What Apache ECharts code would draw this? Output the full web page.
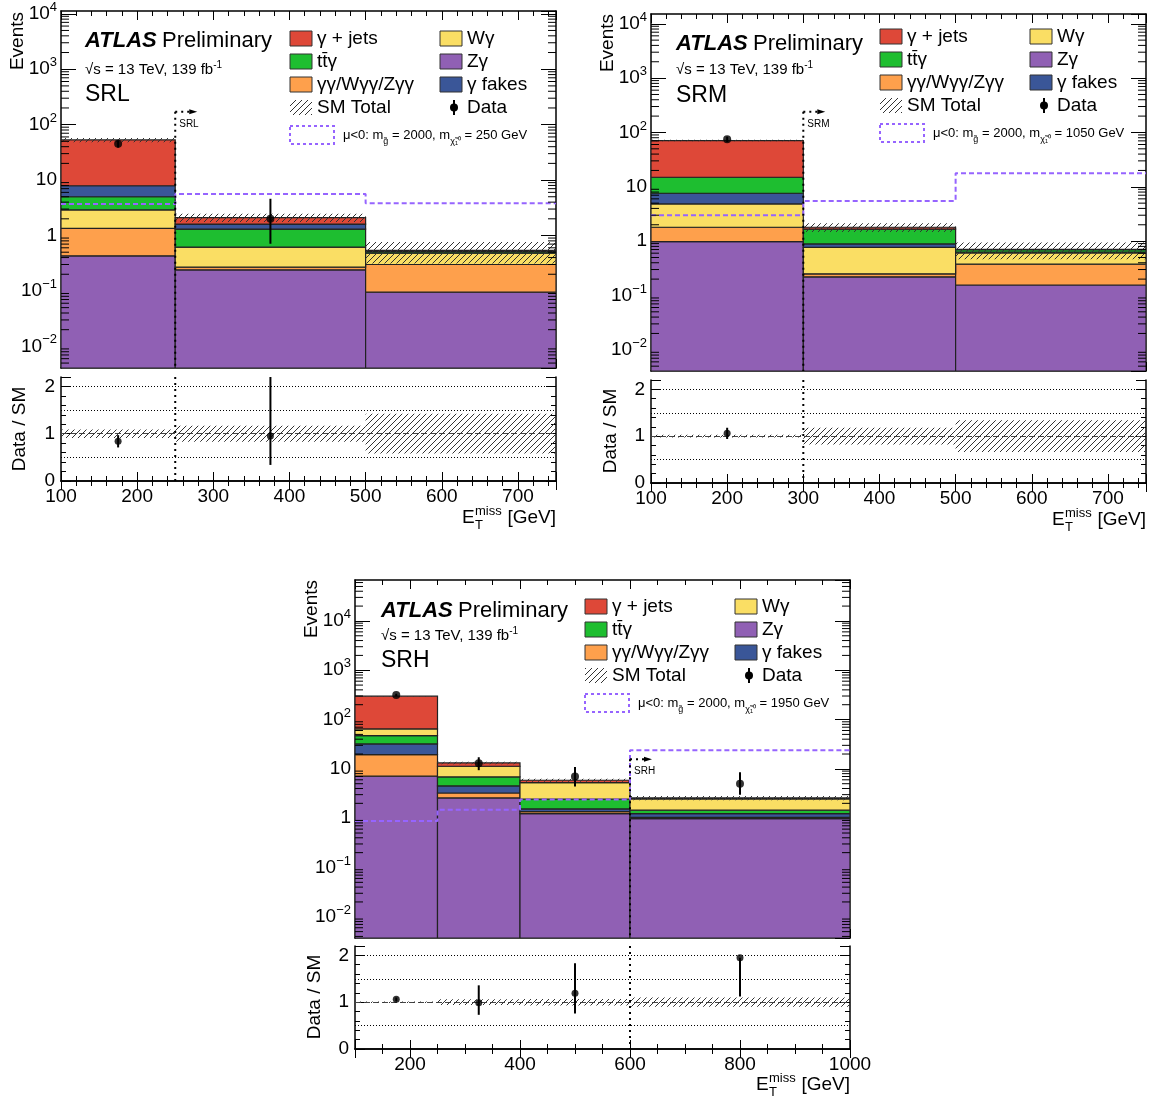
<!DOCTYPE html>
<html><head><meta charset="utf-8">
<script src="https://cdn.jsdelivr.net/npm/echarts@6/dist/echarts.min.js"></script>
<style>html,body{margin:0;padding:0;background:#fff}#c{width:1153px;height:1102px}</style>
</head><body><div id="c"></div>
<script>
// ================= DATA =================
// --- SRL ---
const srlEdges      = [100, 250, 500, 750];
const srlZGamma     = [0.43, 0.24, 0.095];
const srlDiphoton   = [0.92, 0.028, 0.205];
const srlWGamma     = [1.55, 0.35, 0.18];
const srlTtGamma    = [2.1, 0.69, 0.03];
const srlFakes      = [2.9, 0.30, 0.025];
const srlGammaJets  = [45, 0.50, 0.005];
const srlSystRel    = [0.09, 0.17, 0.42];
const srlSignal     = [3.7, 5.6, 3.8];
const srlDataX      = [175, 375];
const srlData       = [45, 2];
const srlDataLo     = [38.5, 0.71];
const srlDataHi     = [52, 4.6];
const srlRatio      = [0.84, 0.95];
const srlRatioLo    = [0.71, 0.34];
const srlRatioHi    = [0.97, 2.5];
const srlCut        = 250;
// --- SRM ---
const srmEdges      = [100, 300, 500, 750];
const srmZGamma     = [0.98, 0.22, 0.156];
const srmDiphoton   = [0.82, 0.03, 0.22];
const srmWGamma     = [3.04, 0.52, 0.23];
const srmFakes      = [2.76, 0.12, 0.02];
const srmTtGamma    = [7.4, 0.77, 0.07];
const srmGammaJets  = [56, 0.14, 0.01];
const srmSystRel    = [0.03, 0.18, 0.34];
const srmSignal     = [3.0, 5.5, 17.8];
const srmDataX      = [200];
const srmData       = [75];
const srmDataLo     = [66.5];
const srmDataHi     = [83.6];
const srmRatio      = [1.06];
const srmRatioLo    = [0.94];
const srmRatioHi    = [1.18];
const srmCut        = 300;
// --- SRH ---
const srhEdges      = [100, 250, 400, 600, 1000];
const srhZGamma     = [7.1, 2.57, 1.24, 0.98];
const srhDiphoton   = [12.4, 0.67, 0.12, 0.06];
const srhFakes      = [12.5, 1.26, 0.18, 0.2];
const srhTtGamma    = [15.3, 2.36, 0.91, 0.21];
const srhWGamma     = [17.2, 4.44, 2.82, 1.0];
const srhGammaJets  = [233, 1.9, 0.6, 0.12];
const srhSystRel    = [0.015, 0.06, 0.07, 0.10];
const srhSignal     = [0.88, 1.49, 2.38, 23.8];
const srhDataX      = [175, 325, 500, 800];
const srhData       = [316, 13, 7, 5];
const srhDataLo     = [298, 9.4, 4.4, 3.0];
const srhDataHi     = [334, 17.2, 10.9, 8.5];
const srhRatio      = [1.06, 0.99, 1.19, 1.95];
const srhRatioLo    = [1.02, 0.73, 0.76, 1.12];
const srhRatioHi    = [1.10, 1.36, 1.83, 1.95];
const srhCut        = 600;

const legendLabels = ['γ + jets', 'Wγ', 'tt\u0304γ', 'Zγ', 'γγ/Wγγ/Zγγ', 'γ fakes', 'SM Total', 'Data'];
const signalMasses = ['250', '1050', '1950'];
const regionNames  = ['SRL', 'SRM', 'SRH'];

// ================= STYLE =================
const FONT = '"Liberation Sans", Arial, Helvetica, sans-serif';
const C = {gj:'#de4838', tt:'#1ebe30', di:'#fea04c', w:'#fade64', z:'#9060b4', fk:'#3a5698', sig:'#9664ff'};

function hatchPattern(step) {
  const c = document.createElement('canvas'); c.width = step; c.height = step;
  const x = c.getContext('2d'); x.strokeStyle = '#333'; x.lineWidth = 1;
  x.beginPath();
  x.moveTo(0, step); x.lineTo(step, 0);
  x.moveTo(-step/2, step/2); x.lineTo(step/2, -step/2);
  x.moveTo(step/2, step*1.5); x.lineTo(step*1.5, step/2);
  x.stroke();
  return {image: c, repeat: 'repeat'};
}
const HATCH = hatchPattern(6);

const panels = [
  { name: regionNames[0], edges: srlEdges,
    stack: [['Zγ', srlZGamma, C.z], ['γγ/Wγγ/Zγγ', srlDiphoton, C.di], ['Wγ', srlWGamma, C.w],
            ['ttγ', srlTtGamma, C.tt], ['γ fakes', srlFakes, C.fk], ['γ + jets', srlGammaJets, C.gj]],
    syst: srlSystRel, signal: srlSignal, dataX: srlDataX, data: srlData, dataLo: srlDataLo, dataHi: srlDataHi,
    ratio: srlRatio, ratioLo: srlRatioLo, ratioHi: srlRatioHi, cut: srlCut, mass: signalMasses[0],
    L: { main:{left:61, top:11, width:495, height:357}, ratio:{left:61, top:377, width:495, height:104},
         xmin:100, xmax:750, xint:100, xminor:5, ylog:[-2.39, 4.05], cutY:170,
         atlas:[85, 41], sqrts:70, region:95, leg:[290, 31], events:[18, 12], ratioTitle:[20, 429], xTitle:[556, 518] } },
  { name: regionNames[1], edges: srmEdges,
    stack: [['Zγ', srmZGamma, C.z], ['γγ/Wγγ/Zγγ', srmDiphoton, C.di], ['Wγ', srmWGamma, C.w],
            ['γ fakes', srmFakes, C.fk], ['ttγ', srmTtGamma, C.tt], ['γ + jets', srmGammaJets, C.gj]],
    syst: srmSystRel, signal: srmSignal, dataX: srmDataX, data: srmData, dataLo: srmDataLo, dataHi: srmDataHi,
    ratio: srmRatio, ratioLo: srmRatioLo, ratioHi: srmRatioHi, cut: srmCut, mass: signalMasses[1],
    L: { main:{left:651, top:14, width:495, height:357}, ratio:{left:651, top:380, width:495, height:103},
         xmin:100, xmax:750, xint:100, xminor:5, ylog:[-2.39, 4.18], cutY:240,
         atlas:[676, 44], sqrts:70, region:96, leg:[880, 29], events:[608, 14], ratioTitle:[611, 431], xTitle:[1146, 520] } },
  { name: regionNames[2], edges: srhEdges,
    stack: [['Zγ', srhZGamma, C.z], ['γγ/Wγγ/Zγγ', srhDiphoton, C.di], ['γ fakes', srhFakes, C.fk],
            ['ttγ', srhTtGamma, C.tt], ['Wγ', srhWGamma, C.w], ['γ + jets', srhGammaJets, C.gj]],
    syst: srhSystRel, signal: srhSignal, dataX: srhDataX, data: srhData, dataLo: srhDataLo, dataHi: srhDataHi,
    ratio: srhRatio, ratioLo: srhRatioLo, ratioHi: srhRatioHi, cut: srhCut, mass: signalMasses[2],
    L: { main:{left:355, top:580, width:495, height:358}, ratio:{left:355, top:946, width:495, height:103},
         xmin:100, xmax:1000, xint:null, xminor:4, ylog:[-2.43, 4.83], cutY:15.7,
         atlas:[381, 611], sqrts:636, region:661, leg:[585, 599], events:[312, 580], ratioTitle:[315, 997], xTitle:[850, 1085] } }
];

// ================= BUILD =================
const grids = [], xAxes = [], yAxes = [], series = [], graphics = [];
const axisLineStyle = {lineStyle:{color:'#000', width:1.5}};

function logLabel(v) {
  const l = Math.log10(v), r = Math.round(l);
  if (Math.abs(l - r) > 1e-6) return '';
  if (r === 0) return '{b|1}';
  if (r === 1) return '{b|10}';
  return '{b|10}{s|' + (r < 0 ? '\u2212' + (-r) : r) + '}';
}

function makeX(g, L, pos, labels) {
  const o = { type:'value', gridIndex:g, position:pos, min:L.xmin, max:L.xmax,
    axisLine: axisLineStyle, splitLine:{show:false},
    axisTick:{show:true, inside:true, length:9, lineStyle:{color:'#000', width:1}},
    minorTick:{show:true, inside:true, splitNumber:L.xminor, length:5, lineStyle:{color:'#000', width:1}},
    axisLabel:{show:labels, color:'#000', fontSize:19, fontFamily:FONT, margin:6,
               formatter: v => String(v),
               showMinLabel: L.xint !== null, showMaxLabel: L.xint === null} };
  if (L.xint) o.interval = L.xint;
  return o;
}
function makeYLog(g, L, pos, labels) {
  return { type:'log', logBase:10, gridIndex:g, position:pos,
    min:Math.pow(10, L.ylog[0]), max:Math.pow(10, L.ylog[1]),
    axisLine: axisLineStyle, splitLine:{show:false},
    axisTick:{show:true, inside:true, length:15, lineStyle:{color:'#000', width:1}},
    minorTick:{show:false},
    axisLabel:{show:labels, formatter:logLabel, margin:4, showMinLabel:false, showMaxLabel:false,
      rich:{ b:{fontSize:19, fontFamily:FONT, color:'#000', lineHeight:26},
             s:{fontSize:13, fontFamily:FONT, color:'#000', lineHeight:13, verticalAlign:'top'} } } };
}
function makeYRatio(g, pos, labels) {
  return { type:'value', gridIndex:g, position:pos, min:0, max:2.2, interval:1,
    axisLine: axisLineStyle, splitLine:{show:false},
    axisTick:{show:true, inside:true, length:10, lineStyle:{color:'#000', width:1}},
    minorTick:{show:true, splitNumber:5, length:5, lineStyle:{color:'#000', width:1}},
    axisLabel:{show:labels, color:'#000', fontSize:19, fontFamily:FONT, margin:6, showMaxLabel:false} };
}

function rectRender(style) {
  return (params, api) => {
    const a = api.coord([api.value(0), api.value(3)]);
    const b = api.coord([api.value(1), api.value(2)]);
    return {type:'rect', shape:{x:a[0], y:a[1], width:b[0]-a[0], height:b[1]-a[1]}, style};
  };
}
function errRender(params, api) {
  const a = api.coord([api.value(0), api.value(1)]);
  const b = api.coord([api.value(0), api.value(2)]);
  return {type:'line', shape:{x1:a[0], y1:a[1], x2:b[0], y2:b[1]}, style:{stroke:'#000', lineWidth:2}};
}
// log-axis minor ticks (2..9 within each decade), drawn through the axis scale
function logMinorRender(lo, hi) {
  return (params, api) => {
    const cs = params.coordSys;
    const x0 = api.value(0);
    const kids = [];
    for (let d = Math.floor(lo); d <= Math.ceil(hi); d++) {
      for (let k = 2; k <= 9; k++) {
        const v = k * Math.pow(10, d);
        const lv = Math.log10(v);
        if (lv <= lo || lv >= hi) continue;
        const y = api.coord([x0, v])[1];
        kids.push({type:'line', shape:{x1:cs.x, y1:y, x2:cs.x+8, y2:y}, style:{stroke:'#000', lineWidth:1}});
        kids.push({type:'line', shape:{x1:cs.x+cs.width-8, y1:y, x2:cs.x+cs.width, y2:y}, style:{stroke:'#000', lineWidth:1}});
      }
    }
    return {type:'group', children:kids};
  };
}

function txt(x, y, text, opts) {
  return Object.assign({ type:'text', x, y, silent:true,
    style: Object.assign({ text, fill:'#000', font:'19px ' + FONT, textAlign:'left', textVerticalAlign:'middle',
                           align:'left', verticalAlign:'middle' }, opts || {}) });
}

panels.forEach((p) => {
  const L = p.L;
  const gM = grids.length; grids.push(Object.assign({}, L.main));
  const gR = grids.length; grids.push(Object.assign({}, L.ratio));
  xAxes.push(makeX(gM, L, 'bottom', false)); xAxes.push(makeX(gM, L, 'top', false));
  xAxes.push(makeX(gR, L, 'bottom', true));  xAxes.push(makeX(gR, L, 'top', false));
  yAxes.push(makeYLog(gM, L, 'left', true));  yAxes.push(makeYLog(gM, L, 'right', false));
  yAxes.push(makeYRatio(gR, 'left', true));   yAxes.push(makeYRatio(gR, 'right', false));
  const ax = {main:{xAxisIndex:2*gM, yAxisIndex:2*gM}, rat:{xAxisIndex:2*gR, yAxisIndex:2*gR}};
  const yMin = Math.pow(10, L.ylog[0]);
  const nb = p.edges.length - 1;

  // stacked backgrounds
  const cum = new Array(nb).fill(0);
  p.stack.forEach(([name, vals, color]) => {
    const data = vals.map((v, i) => {
      const lo = cum[i], hi = cum[i] + v; cum[i] = hi;
      return [p.edges[i], p.edges[i+1], Math.max(lo, yMin), hi];
    });
    series.push(Object.assign({ type:'custom', name, coordinateSystem:'cartesian2d', clip:true, z:2,
      encode:{x:[0,1], y:[2,3]}, data,
      renderItem: rectRender({fill:color, stroke:'#222', lineWidth:1.2}) }, ax.main));
  });
  // SM total uncertainty (hatched)
  series.push(Object.assign({ type:'custom', name:'SM Total', coordinateSystem:'cartesian2d', clip:true, z:3,
    encode:{x:[0,1], y:[2,3]},
    data: cum.map((t, i) => [p.edges[i], p.edges[i+1], t*(1-p.syst[i]), t*(1+p.syst[i])]),
    renderItem: rectRender({fill:HATCH}) }, ax.main));
  // signal (dashed step)
  series.push(Object.assign({ type:'line', name:'signal', step:'end', symbol:'none', z:4,
    data: p.edges.map((e, i) => [e, p.signal[Math.min(i, nb-1)]]),
    lineStyle:{color:C.sig, width:2, type:[5,3]} }, ax.main));
  // log minor ticks
  series.push(Object.assign({ type:'custom', name:'minor ticks', coordinateSystem:'cartesian2d', z:8, silent:true,
    data:[[L.xmin, 1]], renderItem: logMinorRender(L.ylog[0], L.ylog[1]) }, ax.main));
  // cut line + arrow in main
  series.push(Object.assign({ type:'custom', name:'cut', coordinateSystem:'cartesian2d', z:5, silent:true,
    data:[[p.cut, L.cutY]],
    renderItem:(params, api) => {
      const pt = api.coord([api.value(0), api.value(1)]);
      const cs = params.coordSys; const bottom = cs.y + cs.height;
      return {type:'group', children:[
        {type:'line', shape:{x1:pt[0], y1:pt[1], x2:pt[0], y2:bottom}, style:{stroke:'#000', lineWidth:2, lineDash:[2,4]}},
        {type:'line', shape:{x1:pt[0], y1:pt[1], x2:pt[0]+15, y2:pt[1]}, style:{stroke:'#000', lineWidth:2, lineDash:[2,4]}},
        {type:'polygon', shape:{points:[[pt[0]+22,pt[1]],[pt[0]+14,pt[1]-2.5],[pt[0]+14,pt[1]+2.5]]}, style:{fill:'#000'}},
        {type:'text', style:{text:p.name, x:pt[0]+4, y:pt[1]+12, font:'10px ' + FONT, fill:'#000',
          textVerticalAlign:'middle', verticalAlign:'middle'}}
      ]};
    } }, ax.main));
  // data
  series.push(Object.assign({ type:'custom', name:'Data err', coordinateSystem:'cartesian2d', clip:true, z:6,
    data: p.dataX.map((x, i) => [x, p.dataLo[i], p.dataHi[i]]), renderItem: errRender }, ax.main));
  series.push(Object.assign({ type:'scatter', name:'Data', z:7, symbolSize:8, itemStyle:{color:'#000'},
    data: p.dataX.map((x, i) => [x, p.data[i]]) }, ax.main));

  // ratio: hatched band
  series.push(Object.assign({ type:'custom', name:'ratio band', coordinateSystem:'cartesian2d', clip:true, z:3,
    encode:{x:[0,1], y:[2,3]},
    data: p.syst.map((s, i) => [p.edges[i], p.edges[i+1], 1-s, 1+s]),
    renderItem: rectRender({fill:HATCH}) }, ax.rat));
  // ratio cut line
  series.push(Object.assign({ type:'custom', name:'cut r', coordinateSystem:'cartesian2d', z:5, silent:true,
    data:[[p.cut, 1]],
    renderItem:(params, api) => {
      const pt = api.coord([api.value(0), api.value(1)]);
      const cs = params.coordSys;
      return {type:'line', shape:{x1:pt[0], y1:cs.y, x2:pt[0], y2:cs.y+cs.height}, style:{stroke:'#000', lineWidth:2, lineDash:[2,4]}};
    } }, ax.rat));
  series.push(Object.assign({ type:'custom', name:'ratio err', coordinateSystem:'cartesian2d', clip:true, z:6,
    data: p.dataX.map((x, i) => [x, p.ratioLo[i], p.ratioHi[i]]), renderItem: errRender }, ax.rat));
  series.push(Object.assign({ type:'scatter', name:'ratio', z:7, symbolSize:7, itemStyle:{color:'#000'},
    data: p.dataX.map((x, i) => [x, p.ratio[i]]),
    markLine:{ silent:true, symbol:['none','none'], label:{show:false}, z:2,
      data:[ {yAxis:0.5, lineStyle:{color:'#000', width:1, type:[1,2]}},
             {yAxis:1.5, lineStyle:{color:'#000', width:1, type:[1,2]}},
             {yAxis:2,   lineStyle:{color:'#000', width:1, type:[1,2]}},
             {yAxis:1,   lineStyle:{color:'#444', width:1, type:[6,3]}} ] } }, ax.rat));

  // ---------- texts ----------
  graphics.push(txt(L.atlas[0], L.atlas[1], '{a|ATLAS} {b|Preliminary}', {
    rich:{ a:{font:'italic bold 22px ' + FONT, fill:'#000'}, b:{font:'22px ' + FONT, fill:'#000'} } }));
  graphics.push(txt(L.atlas[0], L.sqrts, '{n|\u221As = 13 TeV, 139 fb}{s|-1}', {
    rich:{ n:{font:'15px ' + FONT, lineHeight:20}, s:{font:'10px ' + FONT, lineHeight:10, verticalAlign:'top'} } }));
  graphics.push(txt(L.atlas[0], L.region, p.name, {font:'23px ' + FONT}));
  graphics.push(txt(L.events[0], L.events[1], 'Events', {textAlign:'right', align:'right'}));
  graphics[graphics.length-1].rotation = Math.PI/2;
  graphics.push(txt(L.ratioTitle[0], L.ratioTitle[1], 'Data / SM', {textAlign:'center', align:'center'}));
  graphics[graphics.length-1].rotation = Math.PI/2;
  const R = L.xTitle[0], Y = L.xTitle[1];
  graphics.push(txt(R - 94, Y, 'E'));
  graphics.push(txt(R - 81, Y - 7, 'miss', {font:'13px ' + FONT}));
  graphics.push(txt(R - 81, Y + 7, 'T', {font:'13px ' + FONT}));
  graphics.push(txt(R, Y, '[GeV]', {textAlign:'right', align:'right'}));

  // ---------- legend ----------
  const lx = L.leg[0], ly = L.leg[1];
  const cols = [[C.gj, C.w], [C.tt, C.z], [C.di, C.fk]];
  for (let r = 0; r < 3; r++) for (let c = 0; c < 2; c++) {
    const bx = lx + 150*c, by = ly + 23*r;
    graphics.push({type:'rect', silent:true, shape:{x:bx, y:by, width:22, height:15},
      style:{fill:cols[r][c], stroke:'#333', lineWidth:1}});
    graphics.push(txt(bx + 27, by + 7.5, legendLabels[2*r + c]));
  }
  graphics.push({type:'rect', silent:true, shape:{x:lx, y:ly+69, width:22, height:15}, style:{fill:HATCH}});
  graphics.push(txt(lx + 27, ly + 76.5, legendLabels[6]));
  graphics.push({type:'line', silent:true, shape:{x1:lx+164, y1:ly+69, x2:lx+164, y2:ly+84}, style:{stroke:'#000', lineWidth:2}});
  graphics.push({type:'circle', silent:true, shape:{cx:lx+164, cy:ly+76.5, r:4}, style:{fill:'#000'}});
  graphics.push(txt(lx + 177, ly + 76.5, legendLabels[7]));
  graphics.push({type:'rect', silent:true, shape:{x:lx, y:ly+95, width:44, height:18},
    style:{fill:'none', stroke:C.sig, lineWidth:2, lineDash:[3,3]}});
  graphics.push(txt(lx + 53, ly + 104, '{n|\u03bc<0: m}{sb|g\u0303}{n| = 2000, m}{sb|\u03c7\u0303\u2081\u2070}{n| = ' + p.mass + ' GeV}', {
    rich:{ n:{font:'13px ' + FONT, lineHeight:22}, sb:{font:'9px ' + FONT, lineHeight:10, verticalAlign:'bottom'} } }));
});

const chart = echarts.init(document.getElementById('c'), null, {renderer:'canvas'});
chart.setOption({
  animation:false, backgroundColor:'#fff',
  grid: grids, xAxis: xAxes, yAxis: yAxes, series, graphic: graphics
});
</script></body></html>
